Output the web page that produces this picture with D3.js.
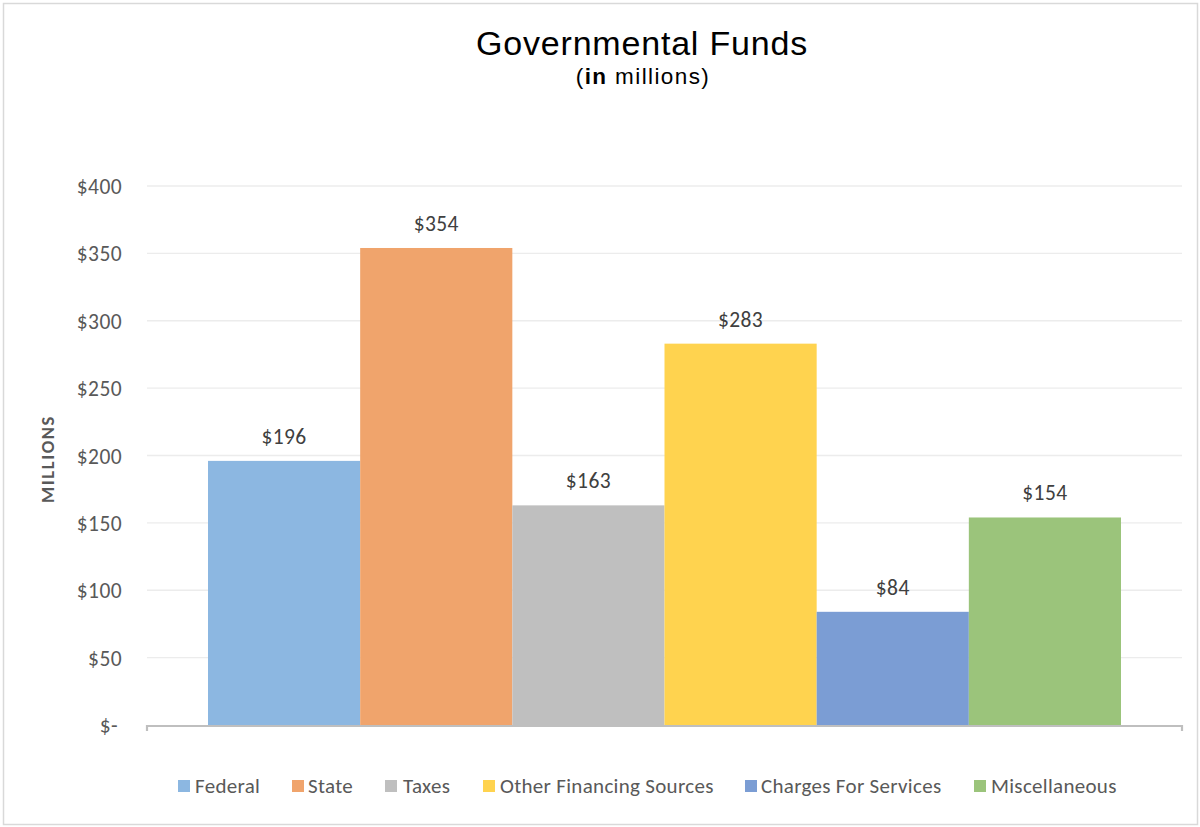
<!DOCTYPE html>
<html>
<head>
<meta charset="utf-8">
<script src="https://cdn.jsdelivr.net/npm/d3@7"></script>
<style>
  html, body { margin: 0; padding: 0; background: #fff; }
  svg { display: block; }
</style>
</head>
<body>
<svg id="chart" width="1200" height="827"></svg>
<script>
// Governmental funds by source, in millions of dollars
const categories = ["Federal", "State", "Taxes", "Other Financing Sources", "Charges For Services", "Miscellaneous"];
const values = [196, 354, 163, 283, 84, 154];
const colors = ["#8cb7e1", "#f0a46c", "#bfbfbf", "#ffd34f", "#7b9dd4", "#9bc47b"];
const yTicks = [0, 50, 100, 150, 200, 250, 300, 350, 400];

const svg = d3.select("#chart");
const W = 1200, H = 827;
const labelFont = "Carlito, Calibri, Lato, 'Open Sans', sans-serif";
const textGray = "#595959";

// outer frame
svg.append("rect")
  .attr("x", 3.5).attr("y", 3.5)
  .attr("width", W - 6).attr("height", H - 6)
  .attr("fill", "#fff").attr("stroke", "#d9d9d9").attr("stroke-width", 1.5);

const plot = { left: 147, right: 1182, top: 186, bottom: 725 };

const y = d3.scaleLinear().domain([0, 400]).range([plot.bottom, plot.top]);
const x = d3.scaleBand()
  .domain(categories)
  .range([208, 1121])
  .paddingInner(0).paddingOuter(0);

// gridlines
svg.append("g")
  .selectAll("line")
  .data(yTicks.filter(d => d > 0))
  .join("line")
  .attr("x1", plot.left).attr("x2", plot.right)
  .attr("y1", d => y(d)).attr("y2", d => y(d))
  .attr("stroke", "#ececec").attr("stroke-width", 1.3);

// y axis labels
const yAxis = d3.axisLeft(y)
  .tickValues(yTicks)
  .tickSize(0)
  .tickPadding(0)
  .tickFormat(d => d === 0 ? "$-" : "$" + d);
const yg = svg.append("g")
  .attr("transform", `translate(122,0)`)
  .call(yAxis);
yg.select(".domain").remove();
yg.selectAll("text")
  .attr("font-family", labelFont)
  .attr("font-size", 21.5)
  .attr("letter-spacing", 0.4)
  .attr("fill", textGray)
  .attr("dy", "0.35em");
yg.selectAll(".tick").filter(d => d === 0).select("text").attr("dx", -4);

// bars
svg.append("g")
  .selectAll("rect")
  .data(categories)
  .join("rect")
  .attr("x", d => x(d))
  .attr("width", x.bandwidth())
  .attr("y", (d, i) => y(values[i]))
  .attr("height", (d, i) => y(0) - y(values[i]))
  .attr("fill", (d, i) => colors[i]);

// value labels
svg.append("g")
  .selectAll("text")
  .data(categories)
  .join("text")
  .attr("x", d => x(d) + x.bandwidth() / 2)
  .attr("y", (d, i) => y(values[i]) - 17)
  .attr("text-anchor", "middle")
  .attr("font-family", labelFont)
  .attr("font-size", 21.5)
  .attr("letter-spacing", 0.4)
  .attr("fill", "#404040")
  .text((d, i) => "$" + values[i]);

// category axis line with end ticks
svg.append("path")
  .attr("d", `M${plot.left},${plot.bottom + 6}V${plot.bottom + 1}H${plot.right}V${plot.bottom + 6}`)
  .attr("fill", "none")
  .attr("stroke", "#bfbfbf")
  .attr("stroke-width", 2.2);

// y axis title
svg.append("text")
  .attr("transform", `translate(54,${459}) rotate(-90)`)
  .attr("text-anchor", "middle")
  .attr("font-family", labelFont)
  .attr("font-weight", "bold")
  .attr("font-size", 18.5)
  .attr("fill", textGray)
  .attr("letter-spacing", 1.6)
  .text("MILLIONS");

// title
svg.append("text")
  .attr("x", 642).attr("y", 55)
  .attr("text-anchor", "middle")
  .attr("font-family", "'Liberation Sans', Arial, sans-serif")
  .attr("font-size", 34)
  .attr("letter-spacing", 0.8)
  .attr("fill", "#000")
  .text("Governmental Funds");

const sub = svg.append("text")
  .attr("x", 643).attr("y", 84)
  .attr("text-anchor", "middle")
  .attr("font-family", "'Liberation Sans', Arial, sans-serif")
  .attr("font-size", 22.5)
  .attr("letter-spacing", 1.4)
  .attr("fill", "#000");
sub.append("tspan").text("(");
sub.append("tspan").attr("font-weight", "bold").text("in");
sub.append("tspan").text(" millions)");

// legend: swatch and label positions per entry
const legendX = [178, 292, 385, 483, 745, 974];
const legendTextGap = [17, 16, 18, 17, 16, 17];
const legend = svg.append("g")
  .selectAll("g")
  .data(categories)
  .join("g")
  .attr("transform", (d, i) => `translate(${legendX[i]},786)`);
legend.append("rect")
  .attr("x", 0).attr("y", -6)
  .attr("width", 12).attr("height", 12)
  .attr("fill", (d, i) => colors[i]);
legend.append("text")
  .attr("x", (d, i) => legendTextGap[i]).attr("y", 0)
  .attr("dy", "0.35em")
  .attr("font-family", labelFont)
  .attr("font-size", 21)
  .attr("letter-spacing", 0.3)
  .attr("fill", textGray)
  .text(d => d);
</script>
</body>
</html>
